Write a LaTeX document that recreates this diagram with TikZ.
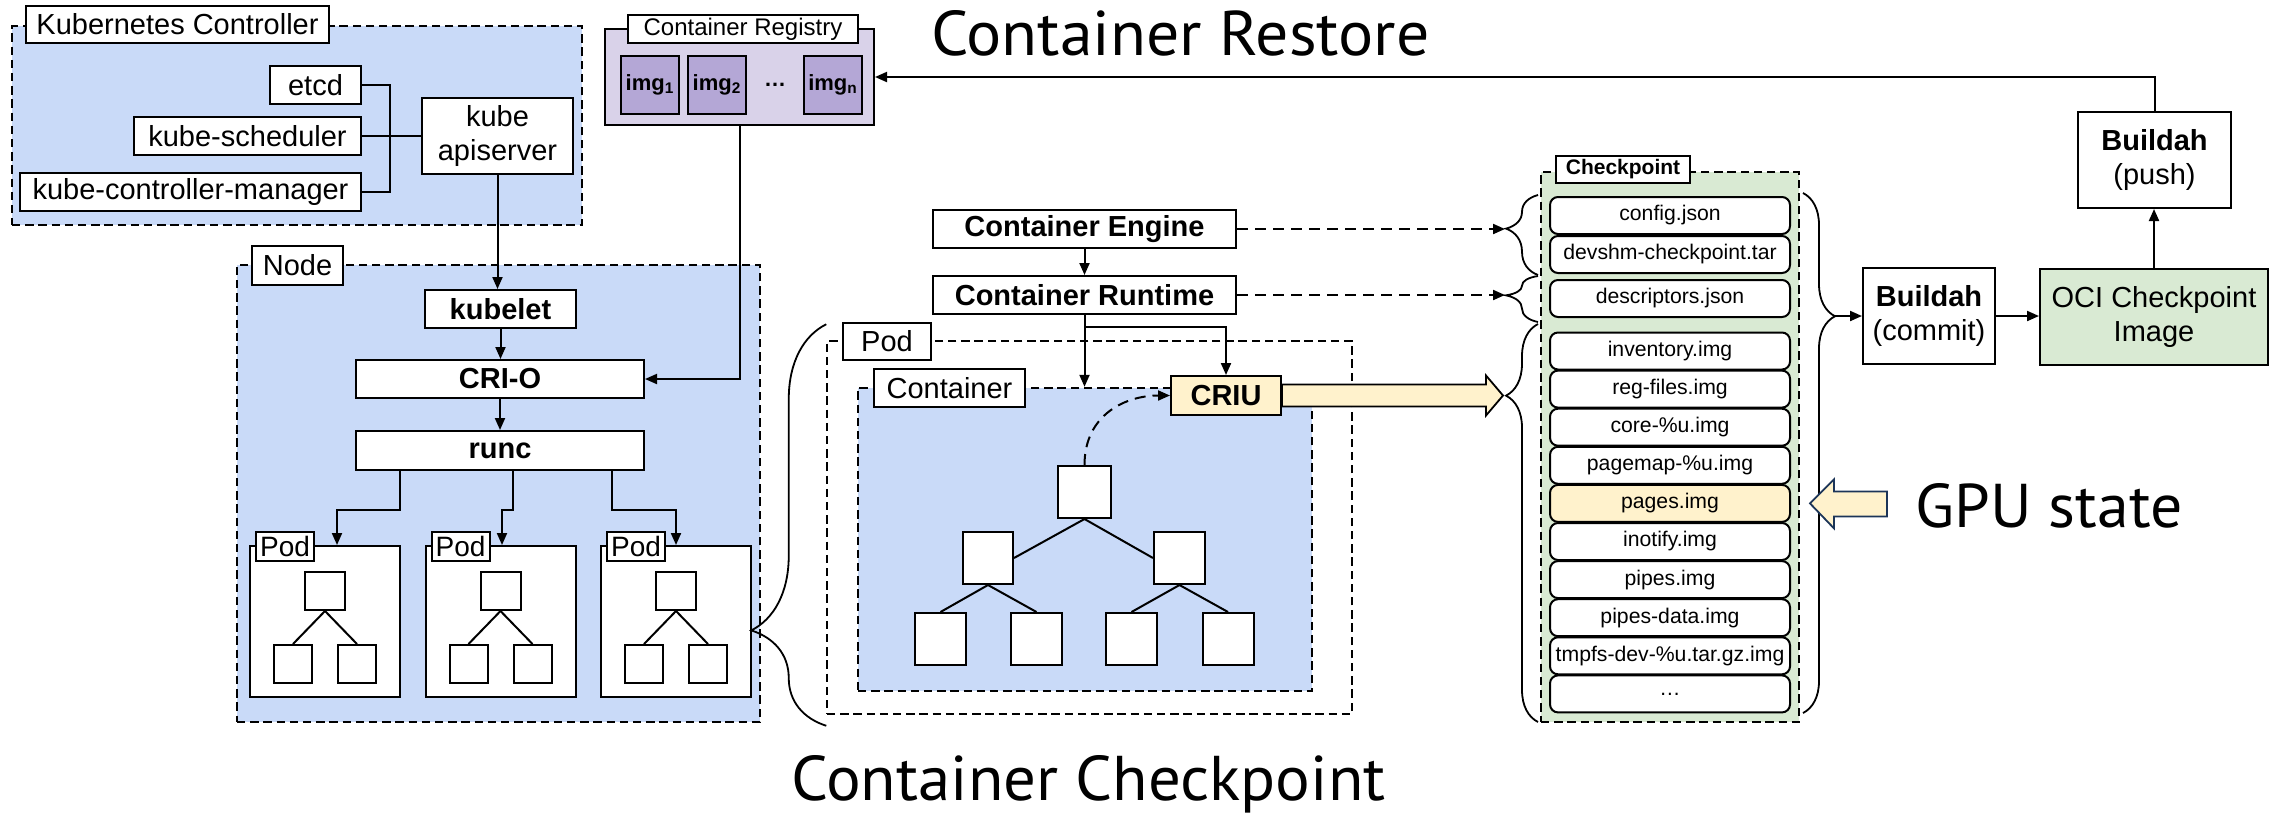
\documentclass[tikz,border=0pt]{standalone}
\usepackage{fontspec}
\setmainfont{Liberation Sans}
\newfontfamily\titlefont{PT Sans}
\usetikzlibrary{arrows.meta,decorations.pathreplacing}

\definecolor{kblue}{HTML}{C9DAF8}
\definecolor{regpurple}{HTML}{D9D2E9}
\definecolor{imgpurple}{HTML}{B4A7D6}
\definecolor{ckgreen}{HTML}{D9EAD3}
\definecolor{hlyellow}{HTML}{FFF2CC}
\definecolor{gpunavy}{HTML}{1C3558}

\begin{document}
\begin{tikzpicture}[x=0.5pt,y=-0.5pt,
    sz/.style 2 args={minimum width=#1*0.5pt,minimum height=#2*0.5pt},
    box/.style={draw,fill=white,line width=1pt,inner sep=0pt,align=center,font=\fontsize{14.5}{17}\selectfont},
    bbox/.style={box,font=\fontsize{14.5}{17}\selectfont\bfseries},
    proc/.style={draw,fill=white,line width=1pt,inner sep=0pt},
    dashbox/.style={draw,line width=1.2pt,dash pattern=on 4.2pt off 2.4pt,inner sep=0pt},
    item/.style={box,rounded corners=4pt,sz={240}{37},font=\fontsize{10.6}{12}\selectfont},
    link/.style={line width=1pt},
    arr/.style={link,-{Triangle[length=6pt,width=5pt]}},
    dasharr/.style={arr,dash pattern=on 5.5pt off 3.5pt},
    curly/.style 2 args={decorate,decoration={brace,amplitude=#1*0.5pt,aspect=#2},line width=0.9pt},
    fatarrow/.style={draw,fill=hlyellow,line width=0.9pt,line join=miter},
  ]
  \useasboundingbox (0,0) rectangle (2280,816);

  % Kubernetes controller
  \node[dashbox,fill=kblue,sz={570}{199}] (kc) at (297,125.5) {};
  \node[box,sz={303}{37}] (kcLbl) at (177.5,24.5) {Kubernetes Controller};
  \node[box,sz={91}{38}] (etcd) at (315.5,85) {etcd};
  \node[box,sz={227}{38}] (sched) at (247.5,136) {kube-scheduler};
  \node[box,sz={341}{38}] (kcm) at (190.5,192) {kube-controller-manager};
  \node[box,sz={151}{76}] (api) at (497.5,136) {kube\\apiserver};
  \coordinate (kcBus) at (390,136);
  \draw[link] (etcd.east) -| (kcBus) |- (kcm.east);
  \draw[link] (sched.east) -- (api.west);

  % container registry
  \node[draw,fill=regpurple,line width=1pt,inner sep=0pt,sz={269}{96}] (reg) at (739.5,77) {};
  \node[box,sz={230}{28},font=\fontsize{12}{14}\selectfont] (regLbl) at (743,29) {Container Registry};
  \foreach \ix/\sub [count=\i] in {650/1,717/2,833/n}
    \node[proc,fill=imgpurple,sz={58}{58},font=\fontsize{11}{13}\selectfont\bfseries] (img\i) at (\ix,85) {img\textsubscript{\sub}};
  \node[font=\fontsize{11}{13}\selectfont\bfseries] (imgDots) at (775,85) {\dots};

  \node[anchor=base west,inner sep=0pt] (restoreTitle) at (931,55) {\titlefont\resizebox{249pt}{22.5pt}{Container Restore}};

  % node
  \node[dashbox,fill=kblue,sz={523}{457}] (node) at (498.5,493.5) {};
  \node[box,sz={91}{39}] (nodeLbl) at (297.5,265.5) {Node};
  \node[bbox,sz={151}{38}] (kubelet) at (500.5,309) {kubelet};
  \node[bbox,sz={288}{38}] (crio) at (500,379) {CRI-O};
  \node[bbox,sz={288}{39}] (runc) at (500,450.5) {runc};
  \draw[arr] (api.south) -- (api.south |- kubelet.north);
  \draw[arr] (kubelet.south) -- (kubelet.south |- crio.north);
  \draw[arr] (crio.south) -- (runc.north);
  \draw[arr] (reg.south) |- (crio.east);

  \foreach \px/\dx/\ox [count=\i] in {325/-100/12,500.5/13/1.5,676/112/0} {
    \node[proc,sz={150}{151}] (pod\i) at (\px,621.5) {};
    \node[box,sz={58}{29},font=\fontsize{14}{16}\selectfont] (pod\i Lbl) at (\px-40,546.5) {Pod};
    \node[proc,sz={40}{38}] (pod\i r) at (\px,591) {};
    \node[proc,sz={38}{38}] (pod\i a) at (\px-32,664) {};
    \node[proc,sz={38}{38}] (pod\i b) at (\px+32,664) {};
    \draw[link] (pod\i r.south) -- (pod\i a.north);
    \draw[link] (pod\i r.south) -- (pod\i b.north);
    \draw[arr] ([xshift=\dx*0.5pt]runc.south) -- ++(0,39) -| ([xshift=\ox*0.5pt]pod\i.north);
  }

  % engine, runtime and the pod being checkpointed
  \node[bbox,sz={303}{38}] (engine) at (1084.5,229) {Container Engine};
  \node[bbox,sz={303}{38}] (runtime) at (1084.5,295) {Container Runtime};
  \draw[arr] (engine.south) -- (runtime.north);

  \node[dashbox,line width=0.75pt,sz={525}{373}] (cpod) at (1089.5,527.5) {};
  \node[box,sz={88}{37}] (cpodLbl) at (887,341.5) {Pod};
  \node[dashbox,fill=kblue,sz={454}{303}] (ctr) at (1085,539.5) {};
  \node[box,sz={151}{38}] (ctrLbl) at (949.5,388) {Container};
  \node[bbox,fill=hlyellow,sz={110}{39}] (criu) at (1226,395.5) {CRIU};
  \draw[arr] (runtime.south) -- (runtime.south |- ctr.north);
  \draw[arr] ([yshift=-6pt]runtime.south) -| (criu.north);

  \node[proc,sz={53}{52}] (croot) at (1084.5,492) {};
  \node[proc,sz={50}{52}] (cl) at (988,558) {};
  \node[proc,sz={51}{52}] (cr) at (1179.5,558) {};
  \foreach \lx [count=\i] in {940.5,1036.5,1131.5,1228}
    \node[proc,sz={51}{52}] (cleaf\i) at (\lx,639) {};
  \draw[link] (croot.south) -- (cl.east);
  \draw[link] (croot.south) -- (cr.west);
  \draw[link] (cl.south) -- (cleaf1.north);
  \draw[link] (cl.south) -- (cleaf2.north);
  \draw[link] (cr.south) -- (cleaf3.north);
  \draw[link] (cr.south) -- (cleaf4.north);
  \draw[dasharr] (croot.north) .. controls +(0,-50) and +(-45,0) .. (criu.west);

  \draw[curly={75}{0.2375}] ([yshift=-5.5pt]cpod.south west) -- ([yshift=8pt]cpod.north west);

  \node[anchor=base west,inner sep=0pt] (ckTitle) at (791,800) {\titlefont\resizebox{297pt}{22.5pt}{Container Checkpoint}};

  % checkpoint archive
  \node[dashbox,fill=ckgreen,sz={258}{550}] (ckpt) at (1670,447) {};
  \node[box,sz={134}{27},font=\fontsize{10.5}{12}\selectfont\bfseries] (ckptLbl) at (1623,169.5) {Checkpoint};
  \node[item] (cfg) at (1670,215.5) {config.json};
  \node[item] (devshm) at (1670,254.5) {devshm-checkpoint.tar};
  \node[item] (desc) at (1670,298.5) {descriptors.json};
  \foreach \f/\c [count=\i from 0] in {inventory.img/white,reg-files.img/white,core-\%u.img/white,
      pagemap-\%u.img/white,pages.img/hlyellow,inotify.img/white,pipes.img/white,
      pipes-data.img/white,tmpfs-dev-\%u.tar.gz.img/white,\dots/white}
    \node[item,fill=\c] (ck\i) at (1670,351+38.1*\i) {\f};

  \coordinate (b1tip) at (1505,229);
  \coordinate (b2tip) at (1505,295);
  \coordinate (b4tip) at (1835,316);
  \draw[curly={32}{0.58}] (1538,275) -- (1538,195);
  \draw[curly={32}{0.58}] (1538,322) -- (1538,276);
  \draw[curly={32}{0.82}] (1538,722) -- (1538,324);
  \draw[curly={32}{0.237}] (1803,193) -- (1803,713);
  \draw[dasharr] (engine.east) -- (b1tip);
  \draw[dasharr] (runtime.east) -- (b2tip);
  \draw[fatarrow] (criu.east) ++(0,-11) -- ++(204,0) -- ++(0,-9) -- ++(17,20) -- ++(-17,20) -- ++(0,-9) -- ++(-204,0) -- cycle;

  % buildah
  \node[box,sz={132}{96}] (commit) at (1929,316) {\textbf{Buildah}\\(commit)};
  \node[box,fill=ckgreen,sz={228}{96}] (oci) at (2154,317) {OCI Checkpoint\\Image};
  \node[box,sz={153}{96}] (push) at (2154.5,160) {\textbf{Buildah}\\(push)};
  \draw[arr] (b4tip) -- (commit.west);
  \draw[arr] (commit.east) -- (commit.east -| oci.west);
  \draw[arr] (oci.north) -- (oci.north |- push.south);
  \draw[arr] (push.north) |- (reg.east);

  % GPU state
  \draw[fatarrow,draw=gpunavy] ([xshift=9.5pt]ck4.east) -- ++(24,-24) -- ++(0,12) -- ++(53,0) -- ++(0,25) -- ++(-53,0) -- ++(0,12) -- cycle;
  \node[anchor=base west,inner sep=0pt] (gpuTitle) at (1915,527) {\titlefont\resizebox{133.5pt}{22pt}{GPU state}};
\end{tikzpicture}
\end{document}
